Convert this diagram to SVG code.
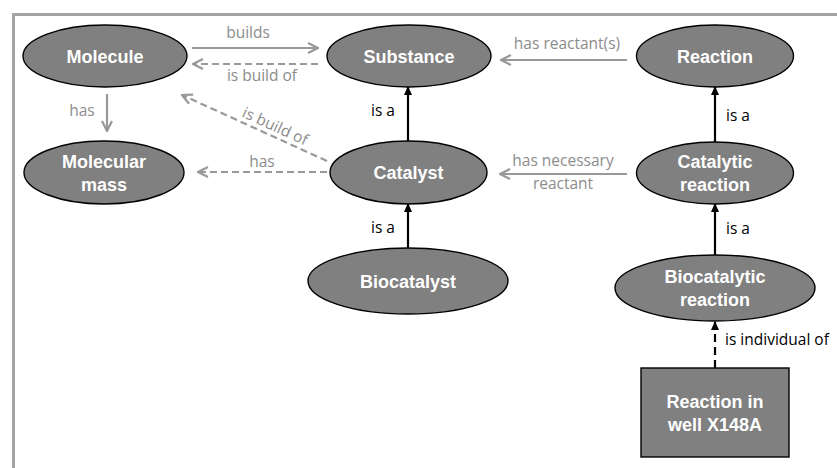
<svg xmlns="http://www.w3.org/2000/svg" width="837" height="468" viewBox="0 0 837 468">
  <style>
    .node { fill: #808080; stroke: #000; stroke-width: 1.4; }
    .ntext { font-family: "Liberation Sans", Arial, sans-serif; font-weight: bold; font-size: 18px; fill: #fff; text-anchor: middle; }
    .glabel { font-family: "Open Sans", "Noto Sans", sans-serif; font-size: 15.5px; fill: #8c8c8c; }
    .blabel { font-family: "Open Sans", "Noto Sans", sans-serif; font-size: 15.5px; fill: #000; }
    .gline { fill: none; stroke: #999; stroke-width: 2.2; }
    .gdash { fill: none; stroke: #999; stroke-width: 2.2; stroke-dasharray: 7 4; }
    .bline { fill: none; stroke: #000; stroke-width: 2.2; }
    .bdash { fill: none; stroke: #000; stroke-width: 2.2; stroke-dasharray: 8 5; }
  </style>
  <defs>
    <marker id="open" viewBox="0 0 12 12" refX="11" refY="6" markerWidth="12" markerHeight="12" markerUnits="userSpaceOnUse" orient="auto">
      <path d="M1,1 L11,6 L1,11" fill="none" stroke="#999" stroke-width="2.2"/>
    </marker>
    <marker id="solid" viewBox="0 0 10 10" refX="9" refY="5" markerWidth="9" markerHeight="10" markerUnits="userSpaceOnUse" orient="auto">
      <path d="M0,0.5 L10,5 L0,9.5 Z" fill="#000"/>
    </marker>
  </defs>

  <!-- outer frame -->
  <path d="M13.5,468 L13.5,14.5 L837,14.5" fill="none" stroke="#a3a3a3" stroke-width="3"/>

  <!-- connectors -->
  <g id="connectors">
    <line class="gline" x1="192" y1="48" x2="318" y2="48" marker-end="url(#open)"/>
    <line class="gdash" x1="318" y1="64" x2="193" y2="64" marker-end="url(#open)"/>
    <line class="gline" x1="107" y1="94" x2="107" y2="131" marker-end="url(#open)"/>
    <line class="gdash" x1="327" y1="161" x2="182" y2="95" marker-end="url(#open)"/>
    <line class="gdash" x1="327" y1="172" x2="198" y2="172" marker-end="url(#open)"/>
    <line class="gline" x1="627" y1="60" x2="501" y2="60" marker-end="url(#open)"/>
    <line class="gline" x1="627" y1="174" x2="500" y2="174" marker-end="url(#open)"/>
    <line class="bline" x1="408" y1="141" x2="408" y2="87" marker-end="url(#solid)"/>
    <line class="bline" x1="408" y1="248" x2="408" y2="204" marker-end="url(#solid)"/>
    <line class="bline" x1="715" y1="142" x2="715" y2="87" marker-end="url(#solid)"/>
    <line class="bline" x1="715" y1="255" x2="715" y2="204" marker-end="url(#solid)"/>
    <line class="bdash" x1="715" y1="368" x2="715" y2="322" marker-end="url(#solid)"/>

    <text class="glabel" x="248" y="38" text-anchor="middle">builds</text>
    <text class="glabel" x="262" y="81" text-anchor="middle">is build of</text>
    <text class="glabel" x="82" y="116" text-anchor="middle">has</text>
    <text class="glabel" text-anchor="middle" transform="translate(273,131) rotate(24.5)">is build of</text>
    <text class="glabel" x="262" y="167" text-anchor="middle">has</text>
    <text class="glabel" x="567" y="49" text-anchor="middle">has reactant(s)</text>
    <text class="glabel" x="563" y="166" text-anchor="middle">has necessary</text>
    <text class="glabel" x="563" y="189" text-anchor="middle">reactant</text>
    <text class="blabel" x="371" y="116">is a</text>
    <text class="blabel" x="371" y="233">is a</text>
    <text class="blabel" x="726" y="121">is a</text>
    <text class="blabel" x="726" y="234">is a</text>
    <text class="blabel" x="725" y="345">is individual of</text>
  </g>

  <!-- nodes -->
  <g id="molecule">
    <ellipse class="node" cx="105" cy="56" rx="82" ry="31"/>
    <text class="ntext" x="105" y="62.5">Molecule</text>
  </g>
  <g id="substance">
    <ellipse class="node" cx="409" cy="56" rx="82" ry="31"/>
    <text class="ntext" x="409" y="62.5">Substance</text>
  </g>
  <g id="reaction">
    <ellipse class="node" cx="715" cy="56" rx="78.5" ry="31"/>
    <text class="ntext" x="715" y="62.5">Reaction</text>
  </g>
  <g id="molecular-mass">
    <ellipse class="node" cx="104" cy="172.5" rx="80" ry="31.5"/>
    <text class="ntext" x="104" y="168">Molecular</text>
    <text class="ntext" x="104" y="191">mass</text>
  </g>
  <g id="catalyst">
    <ellipse class="node" cx="408.5" cy="172.5" rx="78.5" ry="31.5"/>
    <text class="ntext" x="408.5" y="179">Catalyst</text>
  </g>
  <g id="catalytic-reaction">
    <ellipse class="node" cx="715" cy="173" rx="78.5" ry="31"/>
    <text class="ntext" x="715" y="168">Catalytic</text>
    <text class="ntext" x="715" y="191">reaction</text>
  </g>
  <g id="biocatalyst">
    <ellipse class="node" cx="408" cy="281" rx="100" ry="33"/>
    <text class="ntext" x="408" y="287.5">Biocatalyst</text>
  </g>
  <g id="biocatalytic-reaction">
    <ellipse class="node" cx="715" cy="288" rx="100" ry="33"/>
    <text class="ntext" x="715" y="283">Biocatalytic</text>
    <text class="ntext" x="715" y="306">reaction</text>
  </g>
  <g id="reaction-in-well">
    <rect class="node" x="641" y="368" width="148" height="89"/>
    <text class="ntext" x="715" y="408">Reaction in</text>
    <text class="ntext" x="715" y="431">well X148A</text>
  </g>
</svg>
